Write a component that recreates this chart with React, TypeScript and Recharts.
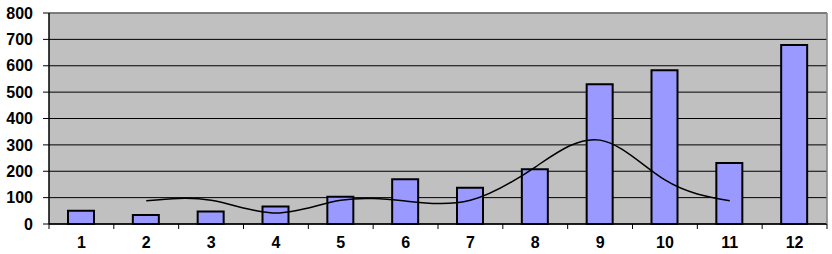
import {
  ComposedChart,
  Bar,
  Line,
  XAxis,
  YAxis,
  CartesianGrid,
} from "recharts";

const categories = ["1", "2", "3", "4", "5", "6", "7", "8", "9", "10", "11", "12"];
const barValues = [50, 34, 47, 66, 103, 170, 137, 208, 530, 583, 231, 679];
const lineValues = [null, 88, 90, 42, 90, 87, 90, 216, 318, 167, 88, null];
const yTicks = [0, 100, 200, 300, 400, 500, 600, 700, 800];

const data = categories.map((c, i) => ({
  name: c,
  bar: barValues[i],
  line: lineValues[i],
}));

const font = {
  fontFamily: "Arial, 'Liberation Sans', sans-serif",
  fontWeight: "bold",
  fontSize: 16,
  fill: "#000",
};

// category label plus tick marks on the category boundaries (Excel style)
function CategoryTick(props: any) {
  const { x, y, payload, index } = props;
  const half = payload && payload.offset ? payload.offset : 32.4;
  const top = 224;
  return (
    <g>
      <line x1={x - half} x2={x - half} y1={top} y2={top + 5} stroke="#000" />
      {index === categories.length - 1 && (
        <line x1={x + half} x2={x + half} y1={top} y2={top + 5} stroke="#000" />
      )}
      <text
        x={x}
        y={y}
        dy="0.71em"
        textAnchor="middle"
        fontFamily={font.fontFamily}
        fontWeight={font.fontWeight}
        fontSize={font.fontSize}
        fill="#000"
      >
        {payload.value}
      </text>
    </g>
  );
}

export default function App() {
  return (
    <div style={{ position: "absolute", left: 0, top: 0, background: "#fff" }}>
      <ComposedChart
        width={832}
        height={254}
        data={data}
        margin={{ top: 12, right: 4, bottom: 0, left: 0 }}
        barCategoryGap={0}
      >
        <CartesianGrid
          vertical={false}
          stroke="#000"
          fill="#C0C0C0"
          fillOpacity={1}
        />
        <XAxis
          dataKey="name"
          tickLine={false}
          axisLine={{ stroke: "#000", strokeWidth: 1.5 }}
          tickSize={5}
          tickMargin={8}
          tick={<CategoryTick />}
          height={30}
          interval={0}
        />
        <XAxis
          xAxisId="t"
          orientation="top"
          dataKey="name"
          tick={false}
          tickLine={false}
          height={1}
          axisLine={{ stroke: "#808080", strokeWidth: 1.5 }}
        />
        <YAxis
          domain={[0, 800]}
          ticks={yTicks}
          tick={font}
          tickSize={6}
          tickMargin={10}
          width={49}
          interval={0}
          axisLine={{ stroke: "#000", strokeWidth: 1.5 }}
          tickLine={{ stroke: "#000" }}
        />
        <YAxis
          yAxisId="r"
          orientation="right"
          domain={[0, 800]}
          tick={false}
          tickLine={false}
          width={1}
          axisLine={{ stroke: "#808080", strokeWidth: 1.5 }}
        />
        <Bar
          dataKey="bar"
          fill="#9999FF"
          stroke="#000"
          strokeWidth={2}
          barSize={26}
          isAnimationActive={false}
        />
        <Line
          dataKey="line"
          type="natural"
          stroke="#000"
          strokeWidth={1.5}
          dot={false}
          connectNulls={false}
          isAnimationActive={false}
        />
      </ComposedChart>
    </div>
  );
}
